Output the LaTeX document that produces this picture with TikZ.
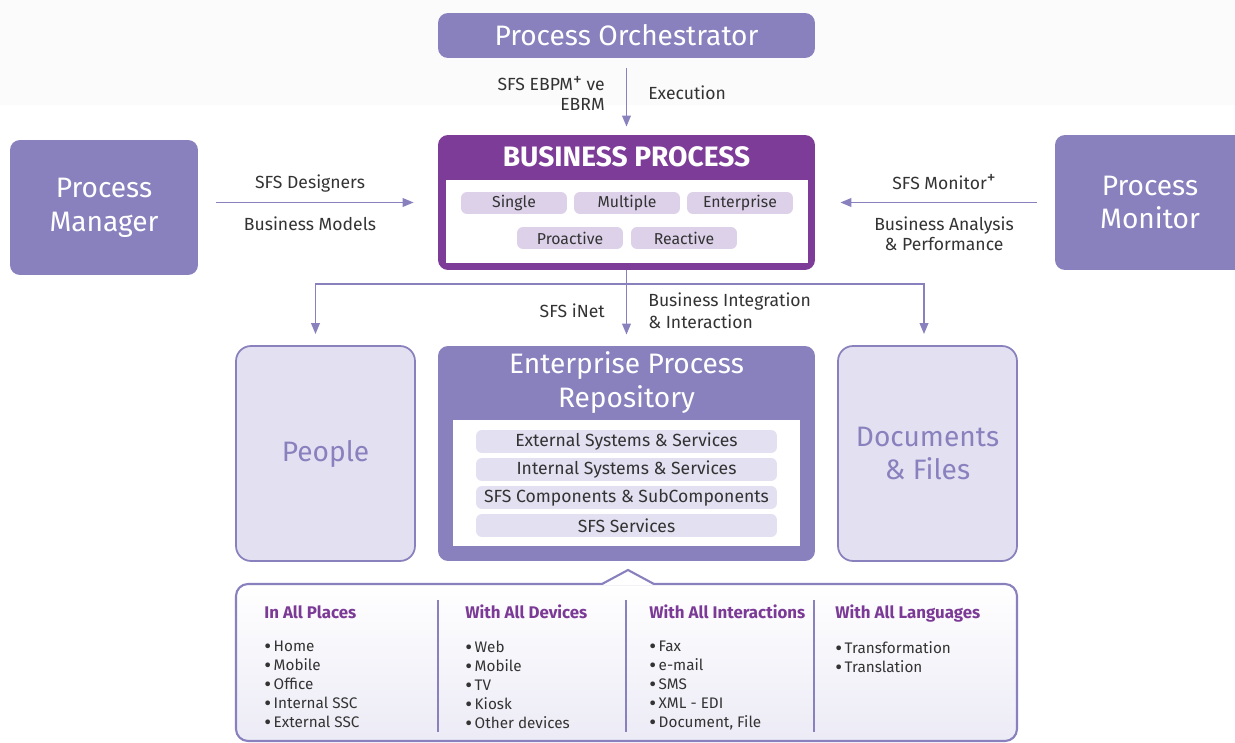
\documentclass[tikz,border=0pt]{standalone}
\usepackage{fontspec}
\setmainfont{Fira Sans}
\usetikzlibrary{arrows.meta,positioning,calc}
\definecolor{Lav}{HTML}{8881BE}
\definecolor{LavLight}{HTML}{E3E0F1}
\definecolor{BpPurple}{HTML}{7D3C98}
\definecolor{BpPill}{HTML}{DCD1E9}
\definecolor{HeadPurple}{HTML}{7B3A96}
\definecolor{TxtGray}{HTML}{333333}
\definecolor{PanelBot}{HTML}{ECEBF6}
\definecolor{TopBand}{HTML}{FBFBFC}
\newcommand{\plus}{\raisebox{0.6ex}{\fontsize{10}{10}\selectfont+}}
\newcommand{\itm}{\vphantom{Hg}\raisebox{-0.25ex}{\fontsize{12}{10}\selectfont\textbullet}\,}
\tikzset{
  bigbox/.style={rounded corners=0.2cm, fill=Lav, text=white, inner sep=0pt,
    font=\fontsize{16}{19.3}\selectfont, align=center},
  sidebox/.style={rounded corners=0.3cm, draw=Lav, line width=1pt, fill=LavLight, text=Lav,
    minimum width=3.58cm, minimum height=4.3cm, inner sep=0pt,
    font=\fontsize{16}{19.3}\selectfont, align=center},
  pill/.style={rounded corners=0.12cm, fill=BpPill, text=TxtGray, inner sep=0pt,
    minimum width=2.12cm, minimum height=0.44cm, font=\fontsize{9}{10}\selectfont},
  bar/.style={rounded corners=0.12cm, fill=LavLight, text=TxtGray, inner sep=0pt,
    minimum width=6.02cm, minimum height=0.46cm, font=\fontsize{10}{11}\selectfont},
  lbl/.style={text=TxtGray, font=\fontsize{10}{11.5}\selectfont, align=center},
  arr/.style={draw=Lav, line width=1.1pt, -{Triangle[length=0.22cm,width=0.17cm]}},
  colhead/.style={anchor=base west, inner sep=0pt, text=HeadPurple, font=\fontsize{9.6}{11}\bfseries},
  colitems/.style={anchor=north west, inner sep=0pt, text=TxtGray, align=left,
    font=\fontsize{8.7}{10.75}\selectfont}
}
\begin{document}
\begin{tikzpicture}[x=0.02cm,y=-0.02cm]
  \useasboundingbox (0,0) rectangle (1235,743);
  \clip (0,0) rectangle (1235,743);
  \fill[TopBand] (0,0) rectangle (1235,105);

  % Top: orchestrator and business process
  \node[bigbox, minimum width=7.54cm, minimum height=0.9cm] (orch) at (626.5,35.5) {Process Orchestrator};
  \node[bigbox, fill=BpPurple, minimum width=7.54cm, minimum height=2.7cm] (bp) at (626.5,202.5) {};
  \node[fill=white, minimum width=7.24cm, minimum height=1.66cm, inner sep=0pt] (bpin) at (627,221.5) {};
  \node[text=white, font=\fontsize{16}{19}\bfseries] (bptitle) at ($(bp.north)+(0,22)$) {BUSINESS PROCESS};

  % the process kinds
  \foreach \xx/\yy/\name [count=\c] in {514/203/Single, 627/203/Multiple, 740/203/Enterprise,
      570/238/Proactive, 684/238/Reactive}{
    \node[pill] (k\c) at (\xx,\yy) {\name};
  }

  % Side boxes
  \node[bigbox, minimum width=3.76cm, minimum height=2.7cm] (mgr) at (104,207.5) {Process\\Manager};
  \node[bigbox, minimum width=3.8cm, minimum height=2.7cm] (mon) at (1150,202.5) {Process\\Monitor};

  % Arrows into the business process
  \draw[arr, shorten <=0.2cm, shorten >=0.16cm] (orch) -- (bp)
    node[lbl, midway, left=0.3cm, yshift=0.06cm, align=right] {SFS EBPM\plus{} ve\\EBRM}
    node[lbl, midway, right=0.3cm, yshift=0.07cm] {Execution};
  \draw[arr, shorten <=0.36cm, shorten >=0.48cm] (mgr.east |- bp) -- (bp.west)
    node[lbl, midway, above=0.06cm, xshift=-0.16cm] {SFS Designers}
    node[lbl, midway, below=0.14cm, xshift=-0.16cm] {Business Models};
  \draw[arr, shorten <=0.36cm, shorten >=0.5cm] (mon.west) -- (bp.east)
    node[lbl, midway, above=0.12cm, xshift=0.18cm] {SFS Monitor\plus}
    node[lbl, midway, below=0.14cm, xshift=0.18cm] {Business Analysis\\\& Performance};

  % Repository and the two side boxes
  \node[bigbox, minimum width=7.54cm, minimum height=4.3cm] (epr) at (626.5,453.5) {};
  \node[text=white, font=\fontsize{16}{19.3}\selectfont, align=center] (eprtitle)
    at ($(epr.north)+(0,37)$) {Enterprise Process\\Repository};
  \node[fill=white, minimum width=6.94cm, minimum height=2.52cm, inner sep=0pt] (eprin) at (626.5,483) {};
  \foreach \yy/\name [count=\c] in {441.5/External Systems \& Services, 469.5/Internal Systems \& Services,
      497.5/SFS Components \& SubComponents, 525.5/SFS Services}{
    \node[bar] (s\c) at (626.5,\yy) {\name};
  }
  \node[sidebox] (people) at (325.5,453.5) {People};
  \node[sidebox] (docs) at (927.5,453.5) {Documents\\\& Files};

  % Arrows out of the business process
  \coordinate (split) at ($(bp.south)+(0,14)$);
  \draw[arr, shorten >=0.22cm] (bp) -- (epr)
    node[lbl, midway, left=0.3cm, yshift=-0.06cm] {SFS iNet}
    node[lbl, midway, right=0.3cm, align=left, yshift=-0.06cm, font=\fontsize{10}{12.8}\selectfont]
      {Business Integration\\\& Interaction};
  \draw[arr, shorten >=0.22cm] (split) -| ([xshift=-0.2cm]people.north);
  \draw[arr, shorten >=0.22cm] (split) -| ([xshift=-0.07cm]docs.north);

  % Bottom panel
  \shade[top color=white, bottom color=PanelBot, draw=Lav, line width=1.2pt, rounded corners=0.24cm]
    (236,584) rectangle (1017,741);
  \fill[white] (602,585) -- (628,570) -- (654,585) -- cycle;
  \draw[Lav, line width=1.2pt] (602,584) -- (628,570) -- (654,584);
  \foreach \xx in {438,626,814}{
    \draw[Lav, line width=0.6pt] (\xx,600) -- (\xx,732);
  }
  \foreach \xx/\head/\items [count=\c] in {
      264/In All Places/{\itm Home\\\itm Mobile\\\itm Office\\\itm Internal SSC\\\itm External SSC},
      465/With All Devices/{\itm Web\\\itm Mobile\\\itm TV\\\itm Kiosk\\\itm Other devices},
      649/With All Interactions/{\itm Fax\\\itm e-mail\\\itm SMS\\\itm XML - EDI\\\itm Document, File},
      835/With All Languages/{\itm Transformation\\\itm Translation}}{
    \node[colhead] (h\c) at (\xx,618) {\head};
    \node[colitems] (l\c) at (\xx,641) {\items};
  }
\end{tikzpicture}
\end{document}
